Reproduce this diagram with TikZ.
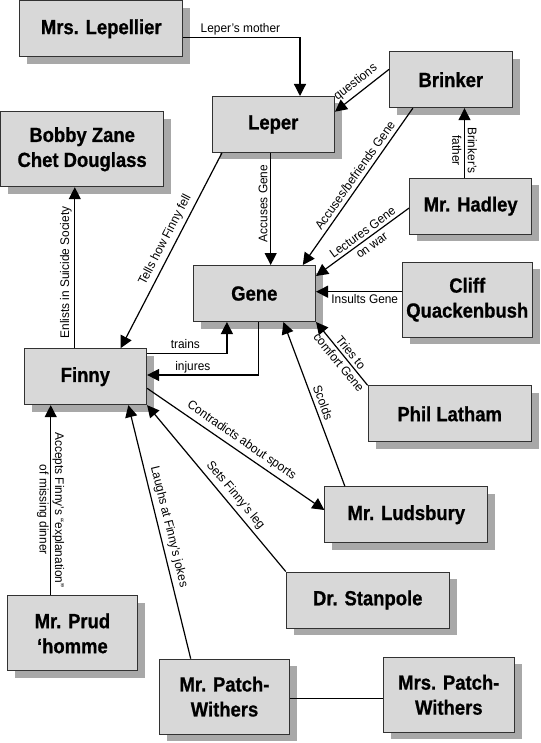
\documentclass[tikz,border=0pt]{standalone}
\usepackage{fontspec}
\newfontfamily\boxfont[FakeStretch=0.9, BoldFeatures={FakeBold=0.8}]{Liberation Sans}
\newfontfamily\lblfont[FakeStretch=0.95]{Liberation Sans}
\usetikzlibrary{arrows.meta,shadows,calc}
\definecolor{boxfill}{RGB}{216,216,216}
\definecolor{shadowc}{RGB}{168,168,168}
\definecolor{edgec}{RGB}{50,50,50}
\tikzset{
  person/.style={draw=edgec, line width=1pt, fill=boxfill, align=center,
    font=\boxfont\bfseries\fontsize{20.5}{25}\selectfont, inner sep=0pt,
    drop shadow={shadow xshift=7.5pt, shadow yshift=-7pt, fill=shadowc, opacity=1}},
  single/.style={person, minimum width=122.5pt, minimum height=56pt},
  wide/.style={person, minimum width=163pt, minimum height=56pt},
  double/.style={person, minimum width=130.5pt, minimum height=75pt},
  link/.style={line width=1.2pt, draw=black, -{Triangle[length=12pt,width=12pt]}},
  plainlink/.style={line width=1.2pt, draw=black},
  lbl/.style={font=\lblfont\fontsize{12.5}{15.5}\selectfont, inner sep=3.8pt, align=center, text=black},
}
\begin{document}
\begin{tikzpicture}[x=1pt,y=-1pt]
\useasboundingbox (0,0) rectangle (540,743);
% boxes
\node[wide] (lep) at (101.25,28.85) {Mrs. Lepellier};
\node[single] (brinker) at (450.85,79.7) {Brinker};
\node[single] (leper) at (273.25,124.5) {Leper};
\node[wide, minimum height=75pt] (bobby) at (82.15,149.2) {Bobby Zane\\Chet Douglass};
\node[single] (hadley) at (470.65,206.15) {Mr. Hadley};
\node[single] (gene) at (254.3,293.5) {Gene};
\node[double] (cliff) at (467.25,299.7) {Cliff\\Quackenbush};
\node[single] (finny) at (85.35,376.65) {Finny};
\node[wide] (phil) at (449.65,413.85) {Phil Latham};
\node[wide] (ludsbury) at (406.35,514.7) {Mr. Ludsbury};
\node[wide] (stanpole) at (367.75,600) {Dr. Stanpole};
\node[double] (prud) at (72.4,633.35) {Mr. Prud\\‘homme};
\node[double] (patch) at (224.5,696.65) {Mr. Patch-\\Withers};
\node[double] (mrspatch) at (448.8,694.8) {Mrs. Patch-\\Withers};
% connectors
\draw[link] ([yshift=-8.85pt]lep.east) -| node[lbl, above, inner sep=2.5pt, pos=0.245] {Leper’s mother} ([xshift=26.75pt]leper.north);
\draw[link] ([yshift=10.4pt]brinker.west) -- node[lbl, sloped, above] {questions} ([yshift=12.8pt]leper.east);
\draw[link] ([xshift=-38pt]brinker.south) -- node[lbl, sloped, above, pos=0.46] {Accuses/befriends Gene} ([xshift=48.5pt]gene.north);
\draw[link] ([xshift=-6.15pt]hadley.north) -- node[lbl, rotate=-90, inner sep=1pt, pos=0.41, xshift=1.5pt] {Brinker’s\\father} ([xshift=-6.15pt]hadley.north |- brinker.south);
\draw[link] ([yshift=-2pt]hadley.west) -- node[lbl, sloped, inner sep=1pt, pos=0.45] {Lectures Gene\\on war} ([yshift=-11pt]gene.north east);
\draw[link] ([yshift=8pt]cliff.west) -- node[lbl, below, inner sep=2.5pt, pos=0.43] {Insults Gene} ([yshift=8pt]cliff.west -| gene.east);
\draw[link] (phil.north west) -- node[lbl, sloped, inner sep=1pt, pos=0.44] {Tries to\\comfort Gene} (gene.south east);
\draw[link] ([xshift=-2.55pt]leper.south) -- node[lbl, rotate=90, anchor=south, inner sep=2.5pt, pos=0.45] {Accuses Gene} ([xshift=-2.55pt]leper.south |- gene.north);
\draw[link] ([xshift=10.4pt]leper.south west) -- node[lbl, sloped, above, pos=0.47] {Tells how Finny fell} ([xshift=35.3pt]finny.north);
\draw[link] ([xshift=-10.55pt]finny.north) -- node[lbl, rotate=90, anchor=south, inner sep=2.5pt, pos=0.47] {Enlists in Suicide Society} ([xshift=-10.55pt]finny.north |- bobby.south);
\draw[link] ([yshift=-5pt]finny.north east) -| node[lbl, above, inner sep=4pt, pos=0.24] {trains} ([xshift=-27.4pt]gene.south);
\draw[link] ([xshift=4.3pt]gene.south) |- node[lbl, above, inner sep=1.5pt, pos=0.795] {injures} ([yshift=1.65pt]finny.east);
\draw[link] ([xshift=-61.5pt]ludsbury.north) -- node[lbl, sloped, above, pos=0.49] {Scolds} ([xshift=29.1pt]gene.south);
\draw[link] ([yshift=-11.65pt]finny.east) -- node[lbl, sloped, above] {Contradicts about sports} ([yshift=4.7pt]ludsbury.west);
\draw[link] (stanpole.north west) -- node[lbl, sloped, above, pos=0.42] {Sets Finny’s leg} (finny.south east);
\draw[link] ([xshift=-33.8pt]patch.north) -- node[lbl, sloped, above, pos=0.51] {Laughs at Finny’s jokes} ([xshift=43pt]finny.south);
\draw[link] ([xshift=-21.7pt]prud.north) -- node[lbl, rotate=-90, inner sep=1pt, pos=0.455, xshift=1pt] {Accepts Finny’s “explanation”\\of missing dinner} ([xshift=-21.7pt]prud.north |- finny.south);
\draw[plainlink] ([yshift=-1.65pt]patch.east) -- ([yshift=-1.65pt]patch.east -| mrspatch.west);
\end{tikzpicture}
\end{document}
